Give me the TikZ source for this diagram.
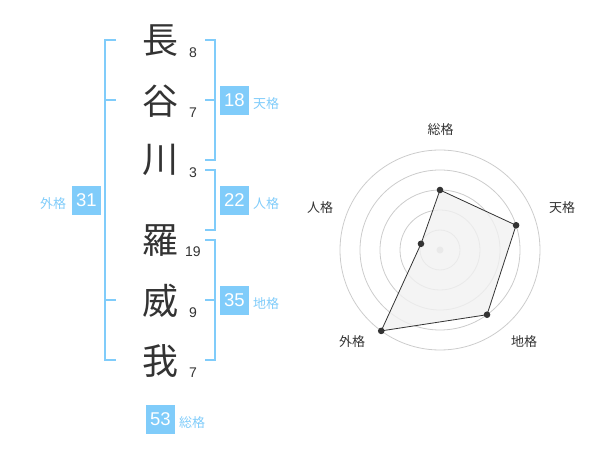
\documentclass[tikz,border=0pt]{standalone}
\usepackage{fontspec}
\setmainfont{Liberation Sans}
\newfontfamily\jpfont{Noto Sans CJK JP}
\usetikzlibrary{calc}
\definecolor{kakublue}{RGB}{128,204,250}
\definecolor{inkgray}{RGB}{51,51,51}
\definecolor{ringgray}{RGB}{204,204,204}
\definecolor{areagray}{RGB}{241,241,241}

\tikzset{
  kanji/.style={font=\jpfont\fontsize{36}{36}\selectfont, text=inkgray, inner sep=0pt},
  strokes/.style={font=\fontsize{14}{14}\selectfont, text=inkgray, inner sep=0pt},
  kakubox/.style={fill=kakublue, text=white, minimum width=29, minimum height=29, inner sep=0pt, font=\fontsize{18.5}{18.5}\selectfont},
  kakulabel/.style={text=kakublue, font=\jpfont\fontsize{13}{13}\selectfont, inner sep=0pt},
  bracket/.style={draw=kakublue, line width=2},
  ring/.style={draw=ringgray, line width=0.8},
  axislabel/.style={text=inkgray, font=\jpfont\fontsize{13}{13}\selectfont, inner sep=0pt},
}

\begin{document}
\begin{tikzpicture}[x=1pt, y=-1pt]
    \useasboundingbox (0,0) rectangle (600,470);

      % Name and stroke counts
      \node[kanji] (k1) at (160,41) {長};
      \node[kanji] (k2) at (160,101) {谷};
      \node[kanji] (k3) at (160,160) {川};
      \node[kanji] (k4) at (160,241) {羅};
      \node[kanji] (k5) at (160,301) {威};
      \node[kanji] (k6) at (160,361) {我};
      \node[strokes] (s1) at (193,53) {8};
      \node[strokes] (s2) at (193,113) {7};
      \node[strokes] (s3) at (193,173) {3};
      \node[strokes] (s4) at (193,252) {19};
      \node[strokes] (s5) at (193,313) {9};
      \node[strokes] (s6) at (193,373) {7};

      % Brackets
      \draw[bracket] (116,40) -- (105,40) -- (105,360) -- (116,360);
      \draw[bracket] (105,100) -- (116,100);
      \draw[bracket] (105,300) -- (116,300);
      \draw[bracket] (205,40) -- (215,40) -- (215,160) -- (205,160);
      \draw[bracket] (205,100) -- (215,100);
      \draw[bracket] (205,170) -- (215,170) -- (215,230) -- (205,230);
      \draw[bracket] (205,240) -- (215,240) -- (215,360) -- (205,360);
      \draw[bracket] (205,300) -- (215,300);

      % Values
      \node[kakubox] (ten) at (234.5,100.5) {18};
      \node[kakulabel] (ten-l) at (266,104) {天格};
      \node[kakubox] (jin) at (234.5,200.5) {22};
      \node[kakulabel] (jin-l) at (266,203.5) {人格};
      \node[kakubox] (chi) at (234.5,300.5) {35};
      \node[kakulabel] (chi-l) at (266,303.5) {地格};
      \node[kakubox] (gai) at (86.5,200.5) {31};
      \node[kakulabel] (gai-l) at (53,203.5) {外格};
      \node[kakubox] (sou) at (160.5,419) {53};
      \node[kakulabel] (sou-l) at (192,422.5) {総格};

      % Radar chart
      \begin{scope}[shift={(440,250)}, yscale=-1]
        \foreach \r in {20,40,...,100}
          \draw[ring] (0,0) circle [radius=\r];
        \fill[ringgray] (0,0) circle [radius=3.5];
        \foreach \name/\ang/\val in {sou/90/3, ten/18/4, chi/-54/4, gai/-126/5, jin/162/1}
          \coordinate (p-\name) at (\ang:\val*20);
        \draw[inkgray, fill=areagray, fill opacity=0.8, line width=0.8] (p-sou) -- (p-ten) -- (p-chi) -- (p-gai) -- (p-jin) -- cycle;
        \foreach \name in {sou,ten,chi,gai,jin}
          \fill[inkgray] (p-\name) circle [radius=3.3];
      \end{scope}
      \node[axislabel] (a-sou) at (440.5,130) {総格};
      \node[axislabel] (a-ten) at (562,208) {天格};
      \node[axislabel] (a-chi) at (524,342) {地格};
      \node[axislabel] (a-gai) at (352,342) {外格};
      \node[axislabel] (a-jin) at (320,208) {人格};
    \end{tikzpicture}
\end{document}
